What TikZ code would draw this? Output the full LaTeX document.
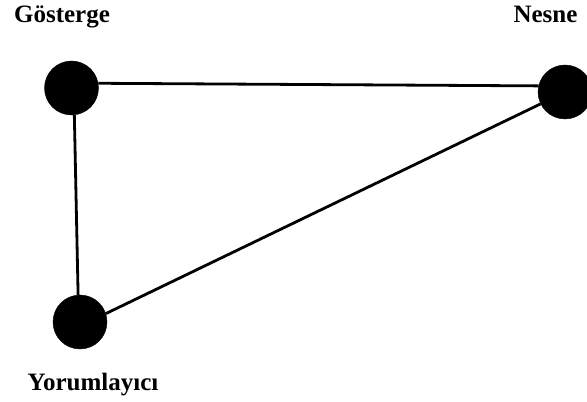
\documentclass[tikz,border=0pt]{standalone}
\usepackage{fontspec}
\setmainfont{Liberation Serif}
\usetikzlibrary{positioning}

\begin{document}
\begin{tikzpicture}[
  x=1pt, y=1pt,
  sign/.style={circle, fill=black, draw=black, inner sep=0pt, minimum size=54pt},
  signLabel/.style={font=\fontsize{25}{30}\selectfont\bfseries, anchor=base, inner sep=0pt},
  link/.style={draw=black, line width=2.8pt}
]
\useasboundingbox (0,0) rectangle (587,402);

% ===== Corners of the triangle =====
\node[sign] (gost) at (71.5,314) {};
\node[sign] (nesne) at (565,310) {};
\node[sign] (yorum) at (80,80) {};

% ===== Labels =====
\node[signLabel] (gostL) at (62,379) {Gösterge};
\node[signLabel] (nesneL) at (545.5,379) {Nesne};
\node[signLabel] (yorumL) at (93,11) {Yorumlayıcı};

% ===== Sides =====
\draw[link] (gost.10.7) -- (nesne.167);
\draw[link] (gost.-84.7) -- (yorum.94);
\draw[link] (yorum.18.4) -- (nesne.206.6);

\end{tikzpicture}
\end{document}
